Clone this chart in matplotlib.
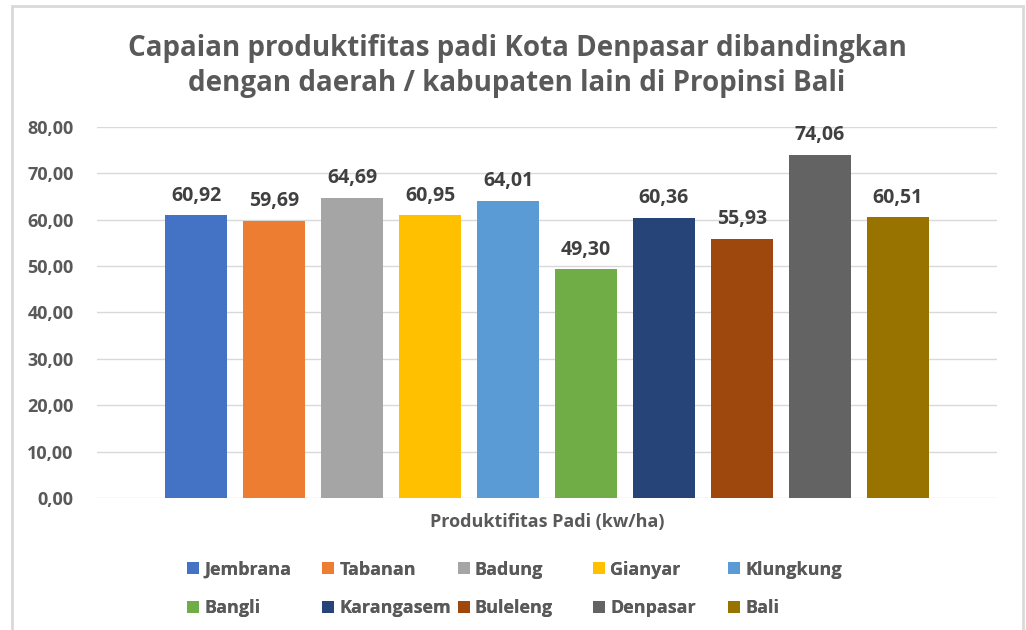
import matplotlib.pyplot as plt
from matplotlib.patches import Rectangle

plt.rcParams['font.family'] = ['Open Sans', 'DejaVu Sans']

daerah = ['Jembrana', 'Tabanan', 'Badung', 'Gianyar', 'Klungkung',
          'Bangli', 'Karangasem', 'Buleleng', 'Denpasar', 'Bali']
nilai = [60.92, 59.69, 64.69, 60.95, 64.01, 49.30, 60.36, 55.93, 74.06, 60.51]
warna = ['#4472C4', '#ED7D31', '#A5A5A5', '#FFC000', '#5B9BD5',
         '#70AD47', '#264478', '#9E480E', '#636363', '#997300']
yticks = [0, 10, 20, 30, 40, 50, 60, 70, 80]

fig = plt.figure(figsize=(10.26, 6.3), dpi=100)
ax = fig.add_axes([97/1026, 132/630, 900/1026, 371/630])

# bingkai grafik
fig.patches.append(Rectangle((12/1026, -0.05), 1011/1026, 1.05 - 6/630,
                             transform=fig.transFigure, fill=False,
                             edgecolor='#D9D9D9', linewidth=2))

for i, (d, v, c) in enumerate(zip(daerah, nilai, warna)):
    ax.bar(i, v, width=0.79, color=c, label=d, zorder=3)
    ax.annotate(f'{v:.2f}'.replace('.', ','), (i, v), xytext=(0, 7),
                textcoords='offset points', ha='center', va='bottom',
                fontsize=14, fontweight='bold', color='#404040')

ax.set_xlim(-1.27, 9 + 1.27)
ax.set_ylim(0, 80)
ax.set_yticks(yticks)
ax.set_yticklabels([f'{t:.2f}'.replace('.', ',') for t in yticks],
                   fontsize=13, fontweight='bold', color='#595959')
ax.yaxis.grid(True, color='#D9D9D9', linewidth=1, zorder=0)
ax.tick_params(axis='y', length=0, pad=17)
ax.set_xticks([])
for s in ax.spines.values():
    s.set_visible(False)

ax.set_xlabel('Produktifitas Padi (kw/ha)', fontsize=13, fontweight='bold',
              color='#595959', labelpad=11)

fig.text(517/1026, 1 - 66/630,
         'Capaian produktifitas padi Kota Denpasar dibandingkan\n'
         'dengan daerah / kabupaten lain di Propinsi Bali',
         ha='center', va='center', fontsize=20, fontweight='bold',
         color='#595959', linespacing=1.27)

# legenda: 5 kolom dengan jarak sama, diisi per baris
h, l = ax.get_legend_handles_labels()
for k in range(5):
    leg = fig.legend([h[k], h[k + 5]], [l[k], l[k + 5]], loc='center left',
                     bbox_to_anchor=((187 + k * 135.25) / 1026, 1 - 589 / 630),
                     frameon=False, borderpad=0, borderaxespad=0,
                     handlelength=0.67, handleheight=0.67, handletextpad=0.28,
                     labelspacing=1.15,
                     prop={'size': 13, 'weight': 'bold'}, labelcolor='#595959')
    fig.add_artist(leg)

fig.savefig('out.png', dpi=100)
